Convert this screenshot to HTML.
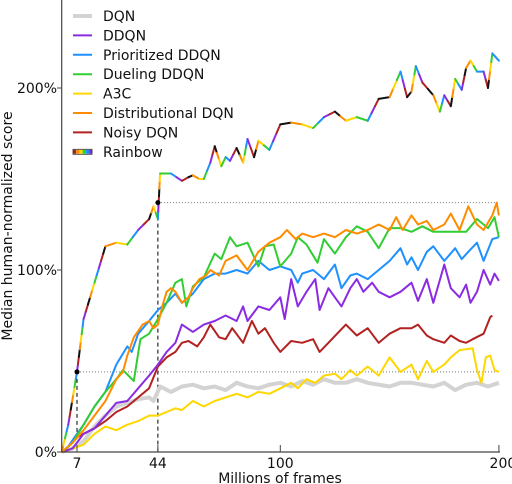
<!DOCTYPE html>
<html><head><meta charset="utf-8"><style>
html,body{margin:0;padding:0;background:#fff;}
svg{display:block;font-family:"DejaVu Sans","Liberation Sans",sans-serif;}
</style></head><body>
<svg id="chart" width="512" height="484" viewBox="0 0 512 484">
<g id="lines"></g>
<g id="axes"></g>
<g id="legend"></g>
</svg>
<script>
const xTicks=[7,44,100,200];
const yTicks=[0,100,200];
const yTickLabels=["0%","100%","200%"];
const rainbowX=[0,3,7,10,15,20,25,30,35,40,42,44,45,50,55,58,60,63,65,68,70,73,75,77,80,83,85,88,90,95,100,105,110,115,120,125,130,135,140,145,150,155,158,160,162,165,170,173,175,178,180,183,185,187,190,193,195,197,200];
const rainbowY=[0,15,44,73,93,113,115,114,122,128,135,128,153,153,149,151,152,150,150,159,168,157,162,160,167,159,172,162,171,166,180,181,180,178,184,187,182,184,182,194,195,209,195,198,212,203,196,187,196,190,205,199,211,215,209,209,200,219,215];
const dqnX=[0,5,10,15,20,25,30,35,40,42,45,50,55,60,65,70,75,80,85,90,95,100,105,110,115,120,125,130,135,140,145,150,155,160,165,170,175,180,185,190,195,200];
const dqnY=[0,2,6,14,20,25,27,29,30,28,36,33,36,37,35,36,34,38,36,35,37,38,36,39,37,40,38,38,40,38,37,36,38,38,37,36,38,34,37,38,36,38];
const ddqnX=[0,5,10,15,20,25,30,35,40,44,48,52,55,60,65,70,75,80,83,85,90,95,100,102,105,108,112,116,118,122,125,128,132,135,138,142,145,150,155,160,163,167,170,175,178,182,185,187,190,193,196,198,200];
const ddqnY=[0,2,10,13,20,27,28,35,42,48,55,60,70,66,70,72,75,72,80,72,80,78,85,73,95,80,88,95,78,90,85,80,90,95,88,93,88,85,88,93,83,95,82,103,90,85,92,82,88,100,92,98,94];
const prioX=[0,3,7,10,15,20,25,30,32,35,40,44,48,52,55,60,65,70,75,80,85,90,95,100,105,108,110,115,120,125,128,132,135,140,145,150,155,158,160,163,167,170,175,180,183,186,190,193,197,200];
const prioY=[0,3,10,15,25,33,48,58,55,65,72,78,82,87,82,87,95,98,98,100,98,105,100,102,100,93,98,100,95,103,90,97,98,95,100,105,112,103,107,100,110,113,105,112,106,110,115,105,117,118];
const duelX=[0,5,10,15,20,25,28,33,36,40,44,48,52,55,57,60,65,70,73,77,80,85,90,93,97,100,105,108,112,117,120,125,130,135,140,145,150,155,160,165,170,175,180,185,190,195,198,200];
const duelY=[0,5,15,25,33,40,45,39,62,65,73,82,93,95,80,91,96,109,106,118,113,115,102,113,114,102,109,118,114,104,117,109,118,124,121,112,123,123,121,124,121,121,121,121,128,123,129,118];
const a3cX=[0,5,10,15,20,25,30,35,40,44,48,52,55,60,65,70,75,80,85,90,95,100,105,108,112,116,120,125,128,132,135,140,145,150,155,160,163,167,170,175,178,182,188,190,192,194,196,198,200];
const a3cY=[0,2,4,10,14,12,15,17,20,20,22,24,23,28,25,28,30,32,30,33,32,35,38,35,40,38,42,43,40,45,42,47,42,52,44,48,40,50,44,48,52,56,57,45,38,52,53,45,44];
const distX=[0,5,10,15,20,25,28,30,33,37,40,42,44,46,48,50,52,55,58,60,63,66,68,72,75,80,85,90,95,100,103,107,110,115,120,125,130,135,140,145,150,153,156,160,163,167,170,175,178,182,186,190,193,197,199,200];
const distY=[0,5,12,20,28,40,44,53,63,70,72,68,70,80,88,90,88,82,85,90,95,97,100,97,105,108,100,110,115,118,122,117,120,118,120,118,122,120,122,125,122,129,122,130,125,127,122,125,131,122,135,125,122,130,137,130];
const noisyX=[0,3,7,10,15,20,25,30,35,40,44,48,52,55,58,62,65,68,72,75,78,83,87,90,93,97,100,105,110,115,118,122,126,130,135,140,145,150,155,160,163,167,170,175,178,182,185,188,193,196,197];
const noisyY=[0,3,8,10,13,17,22,25,30,35,47,52,55,60,61,58,63,70,63,62,68,60,72,65,68,60,55,61,60,62,55,60,65,70,64,68,60,65,68,68,70,64,62,60,64,61,60,62,65,74,75];
const legendNames=["DQN","DDQN","Prioritized DDQN","Dueling DDQN","A3C","Distributional DQN","Noisy DQN","Rainbow"];
const colors=["#d3d3d3","#8a2be2","#1e90ff","#32cd32","#ffd700","#ff8c00","#b22222"];
const rbColors=["#ff8c00","#ffd700","#32cd32","#1e90ff","#8a2be2","#b22222","#111111"];

const NS="http://www.w3.org/2000/svg";
const X=v=>61.7+v*2.186;
const Y=p=>452-p*1.82;
function mk(tag,attrs,parent){const e=document.createElementNS(NS,tag);for(const k in attrs)e.setAttribute(k,attrs[k]);parent.appendChild(e);return e;}
const lines=document.getElementById('lines'),axes=document.getElementById('axes'),legend=document.getElementById('legend');
function pts(xs,ys){return xs.map((x,i)=>X(x).toFixed(1)+","+Y(ys[i]).toFixed(1)).join(" ");}

let r=mk('line',{x1:X(7),y1:Y(44),x2:X(200),y2:Y(44),stroke:'#777','stroke-width':1,'stroke-dasharray':'1,2'},lines);

r=mk('line',{x1:X(44),y1:Y(137),x2:X(200),y2:Y(137),stroke:'#777','stroke-width':1,'stroke-dasharray':'1,2'},lines);

r=mk('line',{x1:X(7),y1:Y(44),x2:X(7),y2:Y(0),stroke:'#000','stroke-width':1,'stroke-dasharray':'4,3'},lines);

r=mk('line',{x1:X(44),y1:Y(137),x2:X(44),y2:Y(0),stroke:'#000','stroke-width':1,'stroke-dasharray':'4,3'},lines);


const series=[[dqnX,dqnY,'dqn-line',4],[a3cX,a3cY,'a3c-line',2],[noisyX,noisyY,'noisy-dqn-line',2],[ddqnX,ddqnY,'ddqn-line',2],[prioX,prioY,'prioritized-ddqn-line',2],[duelX,duelY,'dueling-ddqn-line',2],[distX,distY,'distributional-dqn-line',2]];
const colIdx={'dqn-line':0,'ddqn-line':1,'prioritized-ddqn-line':2,'dueling-ddqn-line':3,'a3c-line':4,'distributional-dqn-line':5,'noisy-dqn-line':6};
series.forEach(s=>{
  const p=mk('polyline',{points:pts(s[0],s[1]),fill:'none',stroke:colors[colIdx[s[2]]],'stroke-width':s[3],'stroke-linejoin':'round'},lines);
  
  
});
const rg=mk('g',{},lines);


let ci=0;
for(let i=0;i<rainbowX.length-1;i++){
  const x1=X(rainbowX[i]),y1=Y(rainbowY[i]),x2=X(rainbowX[i+1]),y2=Y(rainbowY[i+1]);
  const len=Math.hypot(x2-x1,y2-y1);const n=Math.max(1,Math.round(len/8));
  for(let k=0;k<n;k++){
    const seg=mk('line',{x1:x1+(x2-x1)*k/n,y1:y1+(y2-y1)*k/n,x2:x1+(x2-x1)*(k+1)/n,y2:y1+(y2-y1)*(k+1)/n,stroke:rbColors[ci%7],'stroke-width':2,'stroke-linecap':'round'},rg);
    ci++;
    
    
  }
}
let d=mk('circle',{cx:X(7),cy:Y(44),r:2.5,fill:'#000'},lines);

d=mk('circle',{cx:X(44),cy:Y(137),r:2.5,fill:'#000'},lines);


let a=mk('line',{x1:61.7,y1:0,x2:61.7,y2:452.5,stroke:'#444','stroke-width':1.2},axes);

a=mk('line',{x1:61.7,y1:452,x2:500,y2:452,stroke:'#444','stroke-width':1.2},axes);

yTicks.forEach((v,i)=>{
  const t=mk('line',{x1:57,y1:Y(v),x2:61.7,y2:Y(v),stroke:'#444'},axes);
  
  const l=mk('text',{x:57,y:Y(v)+5,'text-anchor':'end','font-size':14,fill:'#111'},axes);
  l.textContent=yTickLabels[i];
  
});
xTicks.forEach(v=>{
  const t=mk('line',{x1:X(v),y1:445,x2:X(v),y2:452,stroke:'#444'},axes);
  
  const l=mk('text',{x:X(v)+(v==200?4:0),y:468,'text-anchor':'middle','font-size':14,fill:'#111'},axes);
  l.textContent=v;
  
});
let tt=mk('text',{x:280,y:483,'text-anchor':'middle','font-size':14,fill:'#111'},axes);
tt.textContent='Millions of frames';

tt=mk('text',{x:0,y:0,'text-anchor':'middle','font-size':14,fill:'#111',transform:'translate(12,226) rotate(-90)'},axes);
tt.textContent='Median human-normalized score';


legendNames.forEach((n,i)=>{
  const y=16+i*19.4;
  const g=mk('g',{},legend);
  
  
  if(i<7){
    mk('line',{x1:73,y1:y,x2:92,y2:y,stroke:colors[i],'stroke-width':i==0?4:2},g);
  }else{
    ['#b22222','#ff8c00','#ffd700','#32cd32','#1e90ff','#8a2be2'].forEach((c,k)=>mk('rect',{x:73+k*3.2,y:y-2,width:3.2,height:4,fill:c},g));
    mk('rect',{x:73,y:y-2.5,width:19,height:5,fill:'none',stroke:'#333','stroke-width':0.8},g);
  }
  const t=mk('text',{x:103,y:y+5,'font-size':14,fill:'#111'},g);
  t.textContent=n;
});
</script>
</body></html>
